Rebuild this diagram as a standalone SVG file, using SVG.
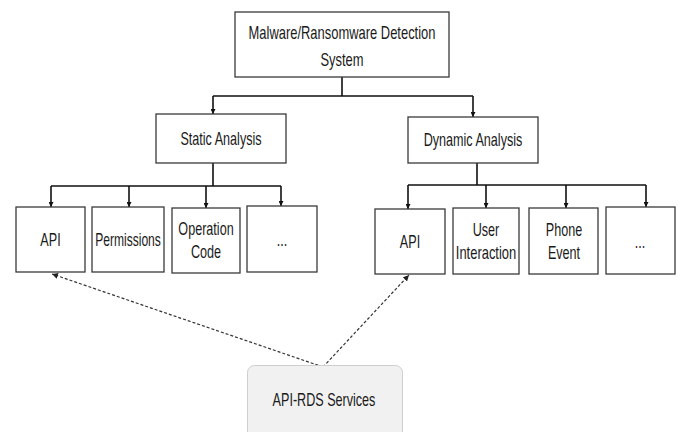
<svg xmlns="http://www.w3.org/2000/svg" width="680" height="432" viewBox="0 0 680 432">
  <defs>
    <marker id="arrow" viewBox="0 0 10 10" refX="10" refY="5" markerWidth="5" markerHeight="5" orient="auto" markerUnits="userSpaceOnUse">
      <path d="M0,0 L10,5 L0,10 z" fill="#111"/>
    </marker>
    <marker id="arrow-dash" viewBox="0 0 10 10" refX="10" refY="5" markerWidth="6" markerHeight="6" orient="auto" markerUnits="userSpaceOnUse">
      <path d="M0,0 L10,5 L0,10 z" fill="#222"/>
    </marker>
  </defs>
  <style>
    .box { fill: #ffffff; stroke: #3a3a3a; stroke-width: 1.3; }
    .svc { fill: #f1f1f1; stroke: #cfcfcf; stroke-width: 1; }
    .label { font-family: "Liberation Sans", Arial, sans-serif; font-size: 17.5px; fill: #1a1a1a; text-anchor: middle; }
    .tree { fill: none; stroke: #111; stroke-width: 1.6; }
    .dash { fill: none; stroke: #333; stroke-width: 1.2; stroke-dasharray: 3 2; }
  </style>

  <rect width="680" height="432" fill="#ffffff"/>

  <!-- connectors -->
  <g id="connectors">
    <path class="tree" d="M342,77 V96 M213,96 H473"/>
    <path class="tree" d="M213,96 V114" marker-end="url(#arrow)"/>
    <path class="tree" d="M473,96 V117" marker-end="url(#arrow)"/>

    <path class="tree" d="M213,163 V186 M51,186 H281"/>
    <path class="tree" d="M51,186 V207" marker-end="url(#arrow)"/>
    <path class="tree" d="M129,186 V207" marker-end="url(#arrow)"/>
    <path class="tree" d="M206,186 V208" marker-end="url(#arrow)"/>
    <path class="tree" d="M281,186 V206" marker-end="url(#arrow)"/>

    <path class="tree" d="M477,163 V185 M408,185 H646"/>
    <path class="tree" d="M408,185 V209" marker-end="url(#arrow)"/>
    <path class="tree" d="M486,185 V208" marker-end="url(#arrow)"/>
    <path class="tree" d="M566,185 V208" marker-end="url(#arrow)"/>
    <path class="tree" d="M646,185 V207" marker-end="url(#arrow)"/>

    <path class="dash" d="M323,367 L52,274" marker-end="url(#arrow-dash)"/>
    <path class="dash" d="M323,367 L409,275" marker-end="url(#arrow-dash)"/>
  </g>

  <!-- labels use a horizontally condensed sans face -->
  <g id="root">
    <rect class="box" x="235" y="12" width="214" height="65"/>
    <text class="label" transform="translate(342,39) scale(0.74,1)">Malware/Ransomware Detection</text>
    <text class="label" transform="translate(342,66) scale(0.74,1)">System</text>
  </g>

  <g id="static">
    <rect class="box" x="156" y="114" width="130" height="49"/>
    <text class="label" transform="translate(221,145) scale(0.72,1)">Static Analysis</text>
  </g>

  <g id="dynamic">
    <rect class="box" x="408" y="117" width="130" height="46"/>
    <text class="label" transform="translate(473,146) scale(0.72,1)">Dynamic Analysis</text>
  </g>

  <g id="static-api">
    <rect class="box" x="16" y="207" width="69" height="65"/>
    <text class="label" transform="translate(50.5,246) scale(0.72,1)">API</text>
  </g>
  <g id="permissions">
    <rect class="box" x="92" y="207" width="72" height="65"/>
    <text class="label" transform="translate(128,246) scale(0.69,1)">Permissions</text>
  </g>
  <g id="opcode">
    <rect class="box" x="172" y="208" width="68" height="65"/>
    <text class="label" transform="translate(206,234.5) scale(0.72,1)">Operation</text>
    <text class="label" transform="translate(206,257.5) scale(0.72,1)">Code</text>
  </g>
  <g id="static-more">
    <rect class="box" x="247" y="206" width="70" height="66"/>
    <text class="label" transform="translate(282,246) scale(0.72,1)">...</text>
  </g>

  <g id="dynamic-api">
    <rect class="box" x="375" y="209" width="70" height="65"/>
    <text class="label" transform="translate(410,247.5) scale(0.72,1)">API</text>
  </g>
  <g id="user-interaction">
    <rect class="box" x="453" y="208" width="66" height="66"/>
    <text class="label" transform="translate(486,236) scale(0.72,1)">User</text>
    <text class="label" transform="translate(486,259) scale(0.74,1)">Interaction</text>
  </g>
  <g id="phone-event">
    <rect class="box" x="529" y="208" width="69" height="66"/>
    <text class="label" transform="translate(564,236) scale(0.72,1)">Phone</text>
    <text class="label" transform="translate(564,259) scale(0.72,1)">Event</text>
  </g>
  <g id="dynamic-more">
    <rect class="box" x="606" y="207" width="69" height="67"/>
    <text class="label" transform="translate(640,248) scale(0.72,1)">...</text>
  </g>

  <g id="api-rds">
    <rect class="svc" x="247.5" y="365.5" width="155" height="90" rx="7"/>
    <text class="label" transform="translate(324,406) scale(0.72,1)">API-RDS Services</text>
  </g>
</svg>
